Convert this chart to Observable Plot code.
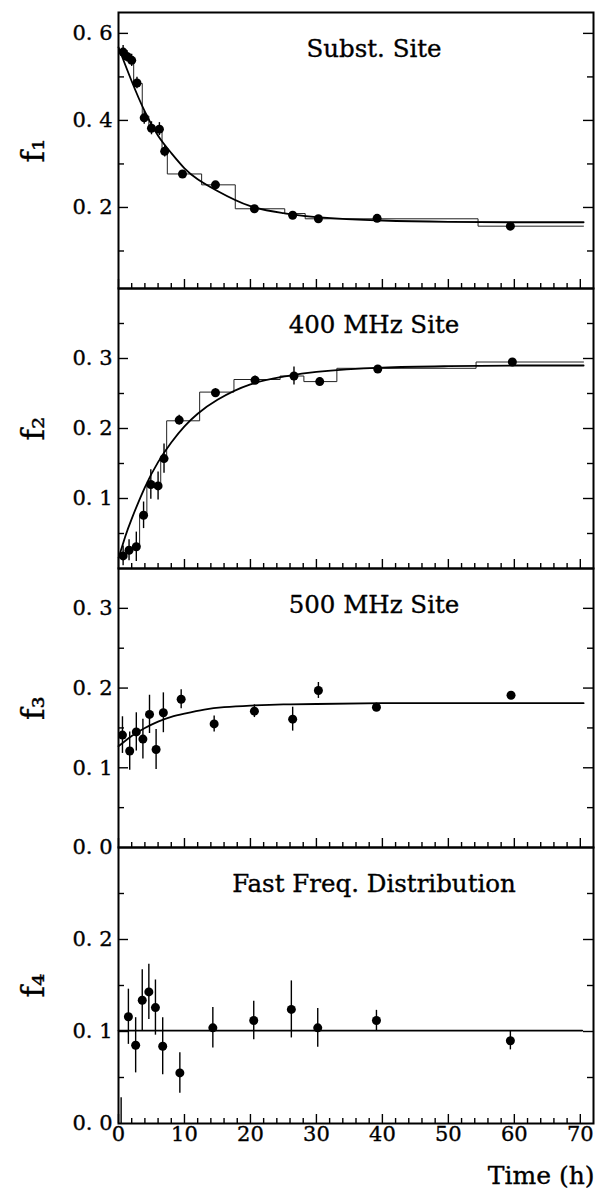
<!DOCTYPE html>
<html>
<head>
<meta charset="utf-8">
<script src="https://cdn.jsdelivr.net/npm/d3@7"></script>
<script src="https://cdn.jsdelivr.net/npm/@observablehq/plot@0.6"></script>
<style>
  body { margin: 0; background: #fff; }
  #chart svg { display: block; }
</style>
</head>
<body>
<div id="chart"></div>
<script>
// ---------- Data ----------
// Panel 1: Subst. Site (f1)
const t1 = [0.7, 1.3, 2.0, 2.8, 3.9, 5.0, 6.2, 7.0, 9.7, 14.7, 20.6, 26.4, 30.3, 39.2, 59.4];
const f1 = [0.557, 0.547, 0.538, 0.486, 0.406, 0.382, 0.380, 0.329, 0.277, 0.252, 0.197, 0.182, 0.174, 0.175, 0.157];
const e1 = [0.015, 0.013, 0.014, 0.013, 0.015, 0.015, 0.015, 0.013, 0.006, 0.005, 0.004, 0.004, 0.004, 0.003, 0.003];
const step1T = [0, 1.0, 2.3, 3.6, 4.6, 5.6, 6.6, 7.4, 12.6, 17.7, 25.2, 28.3, 54.5, 70.5];
const step1F = [0.56, 0.54, 0.485, 0.41, 0.382, 0.38, 0.33, 0.277, 0.252, 0.197, 0.186, 0.174, 0.157, 0.157];
const fit1T = [0, 2, 4, 6, 8, 10, 12, 15, 20, 25, 30, 40, 50, 60, 70.5];
const fit1F = [0.568, 0.49, 0.42, 0.365, 0.325, 0.29, 0.265, 0.238, 0.203, 0.187, 0.178, 0.170, 0.167, 0.166, 0.166];

// Panel 2: 400 MHz Site (f2)
const t2 = [0.7, 1.6, 2.7, 3.8, 4.9, 6.0, 6.9, 9.2, 14.7, 20.7, 26.6, 30.5, 39.3, 59.7];
const f2 = [0.018, 0.026, 0.031, 0.076, 0.120, 0.118, 0.157, 0.212, 0.251, 0.269, 0.275, 0.267, 0.285, 0.295];
const e2 = [0.014, 0.015, 0.021, 0.019, 0.021, 0.020, 0.021, 0.007, 0.006, 0.006, 0.013, 0.006, 0.004, 0.003];
const step2T = [0, 1.2, 2.1, 3.2, 4.3, 5.4, 6.4, 7.3, 12.3, 17.5, 24.5, 28.1, 33.1, 54.2, 70.5];
const step2F = [0.018, 0.026, 0.031, 0.076, 0.12, 0.118, 0.157, 0.211, 0.252, 0.270, 0.275, 0.267, 0.286, 0.295, 0.295];
const fit2T = [0, 1, 2, 4, 6, 8, 10, 12, 15, 20, 25, 30, 40, 50, 60, 70.5];
const fit2F = [0.015, 0.045, 0.071, 0.116, 0.152, 0.180, 0.203, 0.221, 0.241, 0.263, 0.274, 0.281, 0.287, 0.289, 0.290, 0.290];

// Panel 3: 500 MHz Site (f3)
const t3 = [0.6, 1.7, 2.7, 3.7, 4.7, 5.7, 6.8, 9.5, 14.5, 20.6, 26.4, 30.3, 39.1, 59.5];
const f3 = [0.141, 0.121, 0.145, 0.136, 0.167, 0.123, 0.169, 0.186, 0.155, 0.171, 0.161, 0.197, 0.176, 0.191];
const e3 = [0.023, 0.024, 0.024, 0.025, 0.024, 0.025, 0.025, 0.012, 0.010, 0.008, 0.015, 0.010, 0.005, 0.004];
const fit3T = [0, 2, 4, 6, 8, 10, 13, 16, 20, 25, 30, 40, 55, 70.5];
const fit3F = [0.127, 0.140, 0.150, 0.158, 0.164, 0.168, 0.173, 0.176, 0.178, 0.1795, 0.180, 0.181, 0.181, 0.181];

// Panel 4: Fast Freq. Distribution (f4)
const t4 = [0.4, 1.5, 2.6, 3.6, 4.6, 5.6, 6.7, 9.3, 14.3, 20.5, 26.2, 30.2, 39.1, 59.4];
const f4 = [-0.010, 0.116, 0.085, 0.134, 0.143, 0.126, 0.084, 0.055, 0.104, 0.112, 0.124, 0.104, 0.112, 0.090];
const e4 = [0.038, 0.030, 0.030, 0.033, 0.030, 0.030, 0.031, 0.022, 0.022, 0.021, 0.031, 0.021, 0.011, 0.010];
const fit4T = [0, 70.3];
const fit4F = [0.101, 0.101];

// Axis ticks and labels
const xMajor = [0, 10, 20, 30, 40, 50, 60, 70];
const xMinor = [2, 4, 6, 8, 12, 14, 16, 18, 22, 24, 26, 28, 32, 34, 36, 38, 42, 44, 46, 48, 52, 54, 56, 58, 62, 64, 66, 68];
const panelTitles = ["Subst. Site", "400 MHz Site", "500 MHz Site", "Fast Freq. Distribution"];
const yLabels = ["f\u2081", "f\u2082", "f\u2083", "f\u2084"];
const xTitle = "Time (h)";

// ---------- Layout ----------
const WIDTH = 597, ML = 118, MR = 4;
const FONT = "'DejaVu Serif', serif";
const fmt = d => d.toFixed(1).replace(".", ". ");
const ink = {fill: "#000", stroke: "#000", strokeWidth: 0.35};

function panel(o) {
  const H = o.height - o.marginTop - o.marginBottom;
  const W = WIDTH - ML - MR;
  const pts = o.t.map((d, i) => ({t: d, f: o.f[i], e: o.e[i]}));
  const fit = o.fitT.map((d, i) => ({t: d, f: o.fitF[i]}));
  const marks = [];
  if (o.stepT) {
    const st = o.stepT.map((d, i) => ({t: d, f: o.stepF[i]}));
    marks.push(Plot.line(st, {x: "t", y: "f", curve: "step-after", stroke: "#222", strokeWidth: 1}));
  }
  marks.push(
    Plot.line(fit, {x: "t", y: "f", curve: "natural", stroke: "#000", strokeWidth: 1.8}),
    Plot.ruleX(pts, {x: "t", y1: d => d.f - d.e, y2: d => d.f + d.e, stroke: "#000", strokeWidth: 1.4, clip: true}),
    Plot.dot(pts, {x: "t", y: "f", r: 4.5, fill: "#000", clip: true}),
    // y ticks (inward, both sides)
    Plot.ruleY(o.yMajor, {insetRight: W - 10, stroke: "#000", strokeWidth: 1.4}),
    Plot.ruleY(o.yMajor, {insetLeft: W - 10, stroke: "#000", strokeWidth: 1.4}),
    Plot.ruleY(o.yMinor, {insetRight: W - 6, stroke: "#000", strokeWidth: 1.4}),
    Plot.ruleY(o.yMinor, {insetLeft: W - 6, stroke: "#000", strokeWidth: 1.4}),
    // x ticks (inward, bottom)
    Plot.ruleX(xMajor, {insetTop: H - 9, stroke: "#000", strokeWidth: 1.4}),
    Plot.ruleX(xMinor, {insetTop: H - 5, stroke: "#000", strokeWidth: 1.4}),
    Plot.frame({stroke: "#000", strokeWidth: 2}),
    Plot.text(o.yTickLabels, {y: d => d, text: fmt, frameAnchor: "left", textAnchor: "end", dx: -6, fontSize: 21, ...ink}),
    Plot.text([o.label], {text: d => d, frameAnchor: "left", rotate: -90, dx: -84, dy: 12, fontSize: 31, ...ink}),
    Plot.text([o.title], {text: d => d, frameAnchor: "top", dx: 18, dy: 27, fontSize: 24.5, ...ink})
  );
  if (o.xAxis) {
    marks.push(
      Plot.text(xMajor, {x: d => d, text: d => String(d), frameAnchor: "bottom", dy: 17, fontSize: 21, ...ink}),
      Plot.text([xTitle], {text: d => d, frameAnchor: "bottom-right", textAnchor: "end", dy: 60, dx: 1, fontSize: 25, ...ink})
    );
  }
  return Plot.plot({
    width: WIDTH,
    height: o.height,
    marginLeft: ML,
    marginRight: MR,
    marginTop: o.marginTop,
    marginBottom: o.marginBottom,
    style: {fontFamily: FONT, background: "#fff", overflow: "visible"},
    x: {domain: [0, 72], axis: null},
    y: {domain: o.yDomain, axis: null},
    marks
  });
}

const chart = document.getElementById("chart");
chart.append(panel({
  height: 288, marginTop: 12, marginBottom: 0, yDomain: [0.0138, 0.648],
  t: t1, f: f1, e: e1, stepT: step1T, stepF: step1F, fitT: fit1T, fitF: fit1F,
  yMajor: [0.2, 0.4, 0.6], yMinor: [0.1, 0.3, 0.5], yTickLabels: [0.2, 0.4, 0.6],
  label: yLabels[0], title: panelTitles[0]
}));
chart.append(panel({
  height: 280, marginTop: 0, marginBottom: 0, yDomain: [0, 0.4],
  t: t2, f: f2, e: e2, stepT: step2T, stepF: step2F, fitT: fit2T, fitF: fit2F,
  yMajor: [0.1, 0.2, 0.3], yMinor: [0.05, 0.15, 0.25, 0.35], yTickLabels: [0.1, 0.2, 0.3],
  label: yLabels[1], title: panelTitles[1]
}));
chart.append(panel({
  height: 279, marginTop: 0, marginBottom: 0, yDomain: [0, 0.35],
  t: t3, f: f3, e: e3, fitT: fit3T, fitF: fit3F,
  yMajor: [0.1, 0.2, 0.3], yMinor: [0.05, 0.15, 0.25], yTickLabels: [0, 0.1, 0.2, 0.3],
  label: yLabels[2], title: panelTitles[2]
}));
chart.append(panel({
  height: 346, marginTop: 0, marginBottom: 70, yDomain: [0, 0.3],
  t: t4, f: f4, e: e4, fitT: fit4T, fitF: fit4F,
  yMajor: [0.1, 0.2], yMinor: [0.05, 0.15, 0.25], yTickLabels: [0, 0.1, 0.2],
  label: yLabels[3], title: panelTitles[3], xAxis: true
}));
</script>
</body>
</html>
